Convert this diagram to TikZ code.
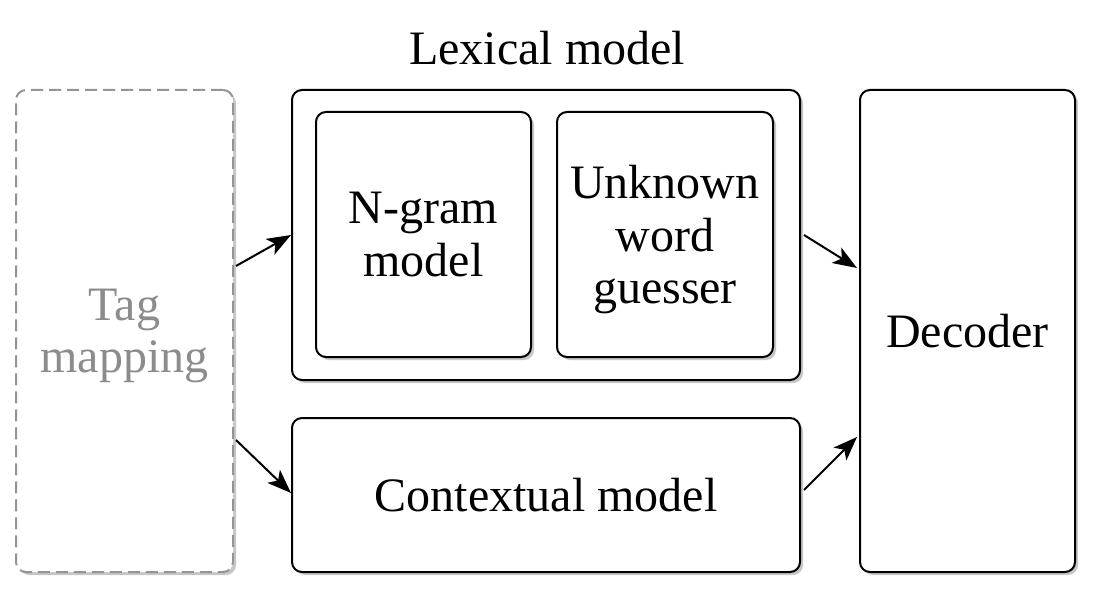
\documentclass[tikz,border=0pt]{standalone}
\usepackage{fontspec}
\setmainfont{Liberation Serif}
\usetikzlibrary{shadows,arrows.meta}
\definecolor{shadowgray}{gray}{0.78}
\definecolor{tagtext}{gray}{0.55}
\definecolor{tagline}{gray}{0.58}
\tikzset{
  boxstyle/.style={draw=black, line width=2pt, rounded corners=10pt, fill=white,
    inner sep=0pt, align=center, font=\fontsize{48}{52.5}\selectfont,
    drop shadow={shadow xshift=3pt, shadow yshift=-3pt, fill=shadowgray, opacity=1}},
  tagstyle/.style={boxstyle, draw=tagline, dash pattern=on 12pt off 6pt, text=tagtext},
  multiline/.style={text depth=0pt},
  conn/.style={line width=2pt, -{Stealth[length=24pt,width=18pt,inset=6pt]}},
}
\begin{document}
\begin{tikzpicture}[x=1pt,y=-1pt]
\useasboundingbox (0,0) rectangle (1096,594);
\node[tagstyle, multiline, minimum width=217pt, minimum height=482pt] (tag) at (124.5,331) {Tag\\mapping};
\node[boxstyle, minimum width=508pt, minimum height=290pt] (lex) at (546,235) {};
\node[boxstyle, multiline, minimum width=215pt, minimum height=245pt] (ngram) at (423.5,234.5) {N-gram\\model};
\node[boxstyle, multiline, minimum width=216pt, minimum height=245pt] (unk) at (665,234.5) {Unknown\\word\\guesser};
\node[boxstyle, minimum width=508pt, minimum height=154pt] (ctx) at (546,495) {Contextual model};
\node[boxstyle, minimum width=215pt, minimum height=482pt] (dec) at (967.5,331) {Decoder};
\node[font=\fontsize{48}{52}\selectfont, inner sep=0pt] (lexlabel) at (547,48) {Lexical model};
\draw[conn] ([xshift=2pt,yshift=65pt]tag.east) -- (lex.west);
\draw[conn] ([xshift=2pt,yshift=-109pt]tag.east) -- ([yshift=2pt]ctx.west);
\draw[conn] ([xshift=3pt]lex.east) -- ([xshift=-2pt,yshift=63pt]dec.west);
\draw[conn] ([xshift=3pt,yshift=5pt]ctx.east) -- ([xshift=-2pt,yshift=-106pt]dec.west);
\end{tikzpicture}
\end{document}
